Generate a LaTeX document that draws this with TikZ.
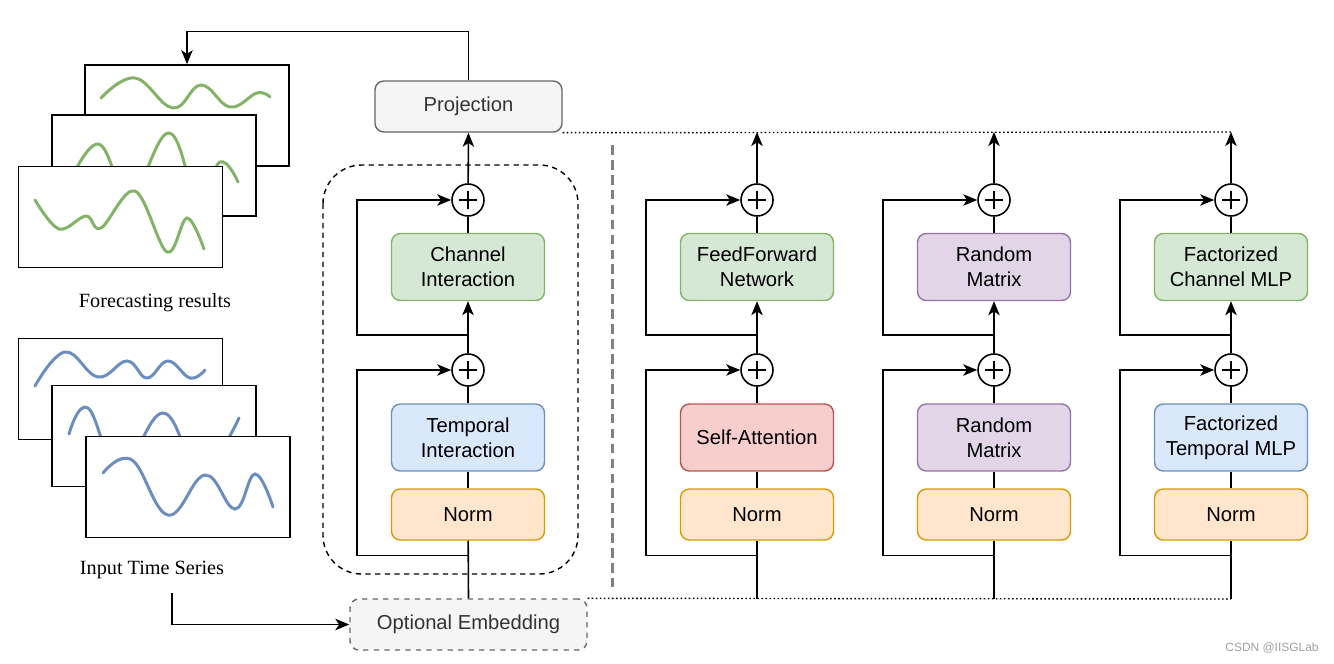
\documentclass[tikz,border=0pt]{standalone}
\usepackage{fontspec}
\setmainfont{Liberation Sans}
\newfontfamily\captionfont{Liberation Serif}
\usetikzlibrary{arrows.meta, positioning, calc}

\definecolor{greenfill}{HTML}{D5E8D4}
\definecolor{greenline}{HTML}{82B366}
\definecolor{bluefill}{HTML}{DAE8FC}
\definecolor{blueline}{HTML}{6C8EBF}
\definecolor{redfill}{HTML}{F8CECC}
\definecolor{redline}{HTML}{B85450}
\definecolor{purplefill}{HTML}{E1D5E7}
\definecolor{purpleline}{HTML}{9673A6}
\definecolor{normfill}{HTML}{FFE6CC}
\definecolor{normline}{HTML}{D79B00}
\definecolor{greyfill}{HTML}{F5F5F5}
\definecolor{greyline}{HTML}{666666}
\definecolor{greytext}{HTML}{333333}

\begin{document}
\begin{tikzpicture}[x=0.02cm, y=-0.02cm, font=\fontsize{11.5}{14}\selectfont,
  block/.style={draw, rounded corners=5pt, line width=0.8pt, minimum width=3.06cm, minimum height=1.34cm, align=center, inner sep=0pt},
  normbox/.style={block, draw=normline, fill=normfill, minimum height=1.02cm},
  sumnode/.style={circle, draw, line width=0.9pt, fill=white, minimum size=0.64cm, inner sep=0pt,
    path picture={\draw[line width=1.4pt] ([xshift=-0.18cm]path picture bounding box.center) -- ([xshift=0.18cm]path picture bounding box.center)
      ([yshift=-0.18cm]path picture bounding box.center) -- ([yshift=0.18cm]path picture bounding box.center);}},
  flow/.style={line width=0.9pt},
  arr/.style={flow, -{Stealth[length=8pt, width=6.5pt, inset=2.2pt]}},
  frame/.style={draw, line width=0.9pt, fill=white, minimum width=4.08cm, minimum height=2.02cm, inner sep=0pt},
  greenwave/.style={draw=greenline, line width=1.7pt, line cap=round},
  bluewave/.style={draw=blueline, line width=1.7pt, line cap=round},
  link/.style={line width=0.8pt, dash pattern=on 0.9pt off 1.4pt}]

  \useasboundingbox (0,0) rectangle (1334,663);

  % forecasting results
  \node[frame] (fc1) at (187,115.5) {};
  \draw[greenwave] plot[smooth, tension=0.7] coordinates {(101,98) (135,78) (173,108) (201,85) (230,107) (257,93) (270,97)};
  \node[frame] (fc2) at (154,165.5) {};
  \draw[greenwave] plot[smooth, tension=0.7] coordinates {(66,190) (98,144) (130,195) (169,133) (198,200) (220,162) (238,182)};
  \node[frame] (fc3) at (120.5,217) {};
  \draw[greenwave] plot[smooth, tension=0.6] coordinates {(35,200) (59,229) (86,216) (101,228) (135,191) (167,252) (187,218) (204,249)};
  \node[font=\captionfont\fontsize{11.5}{14}\selectfont] (fclabel) at (155,303) {Forecasting results};

  % input time series
  \node[frame] (in1) at (120.5,389) {};
  \draw[bluewave] plot[smooth, tension=0.7] coordinates {(35,386) (65,352) (98,377) (127,361) (147,378) (168,361) (190,378) (205,370)};
  \node[frame] (in2) at (154,436) {};
  \draw[bluewave] plot[smooth, tension=0.7] coordinates {(69,434) (88,408) (120,470) (163,413) (200,470) (239,418)};
  \node[frame] (in3) at (188,487) {};
  \draw[bluewave] plot[smooth, tension=0.7] coordinates {(103,473) (132,460) (168,515) (205,475) (235,509) (255,474) (273,507)};
  \node[font=\captionfont\fontsize{11.5}{14}\selectfont] (inlabel) at (152,570) {Input Time Series};

  % projection and embedding
  \node[block, draw=greyline, fill=greyfill, text=greytext, minimum width=3.74cm, minimum height=1.02cm] (proj) at (468.5,106.5) {Projection};
  \node[block, draw=greyline, fill=greyfill, text=greytext, dashed, minimum width=4.74cm, minimum height=1.02cm] (emb) at (468.5,624.5) {Optional Embedding};

  % encoder frame and separator
  \draw[line width=0.8pt, dash pattern=on 3pt off 2.5pt, rounded corners=22pt] (323,165) rectangle (578,574);
  \draw[line width=1.7pt, draw=gray, dash pattern=on 5.5pt off 3pt] (612,145) -- (612,587);

  % column A
  \node[normbox] (normA) at (468,514.5) {Norm};
  \node[block, draw=blueline, fill=bluefill] (midA) at (468,437.5) {Temporal\\Interaction};
  \node[sumnode] (sumA1) at (468,370) {};
  \node[block, draw=greenline, fill=greenfill] (upA) at (468,267) {Channel\\Interaction};
  \node[sumnode] (sumA2) at (468,200) {};
  \coordinate (topA) at (proj.south);
  \coordinate (botA) at (emb.north);

  % column B
  \node[normbox] (normB) at (757,514.5) {Norm};
  \node[block, draw=redline, fill=redfill] (midB) at (757,437.5) {Self-Attention};
  \node[sumnode] (sumB1) at (757,370) {};
  \node[block, draw=greenline, fill=greenfill] (upB) at (757,267) {FeedForward\\Network};
  \node[sumnode] (sumB2) at (757,200) {};
  \coordinate (topB) at (757,132);
  \coordinate (botB) at (757,599);

  % column C
  \node[normbox] (normC) at (994,514.5) {Norm};
  \node[block, draw=purpleline, fill=purplefill] (midC) at (994,437.5) {Random\\Matrix};
  \node[sumnode] (sumC1) at (994,370) {};
  \node[block, draw=purpleline, fill=purplefill] (upC) at (994,267) {Random\\Matrix};
  \node[sumnode] (sumC2) at (994,200) {};
  \coordinate (topC) at (994,132);
  \coordinate (botC) at (994,599);

  % column D
  \node[normbox] (normD) at (1231,514.5) {Norm};
  \node[block, draw=blueline, fill=bluefill] (midD) at (1231,437.5) {Factorized\\Temporal MLP};
  \node[sumnode] (sumD1) at (1231,370) {};
  \node[block, draw=greenline, fill=greenfill] (upD) at (1231,267) {Factorized\\Channel MLP};
  \node[sumnode] (sumD2) at (1231,200) {};
  \coordinate (topD) at (1231,132);
  \coordinate (botD) at (1231,599);

  \foreach \c in {A,B,C,D}{
    \draw[flow] (bot\c) -- (norm\c);
    \draw[flow] (norm\c) -- (mid\c);
    \draw[flow] (mid\c) -- (sum\c1);
    \draw[arr] (sum\c1) -- (up\c);
    \draw[flow] (up\c) -- (sum\c2);
    \draw[arr] (sum\c2) -- (top\c);
    \draw[arr] ($(norm\c.south)+(0,15)$) -| ($(sum\c1.west)+(-94,0)$) -- (sum\c1.west);
    \draw[arr] ($(sum\c1.north)+(0,-18)$) -| ($(sum\c2.west)+(-94,0)$) -- (sum\c2.west);
  }

  % outer links
  \draw[link] (proj.south east) -- (topD);
  \draw[link] (emb.north east) -- (botD);
  \draw[arr] (proj.north) -- ++(0,-49) -| (fc1.north);
  \draw[arr] ($(inlabel.south)+(20,8)$) |- (emb.west);

  \node[text=gray!75, font=\fontsize{6.8}{8}\selectfont] (mark) at (1272,648) {CSDN @IISGLab};
\end{tikzpicture}
\end{document}
